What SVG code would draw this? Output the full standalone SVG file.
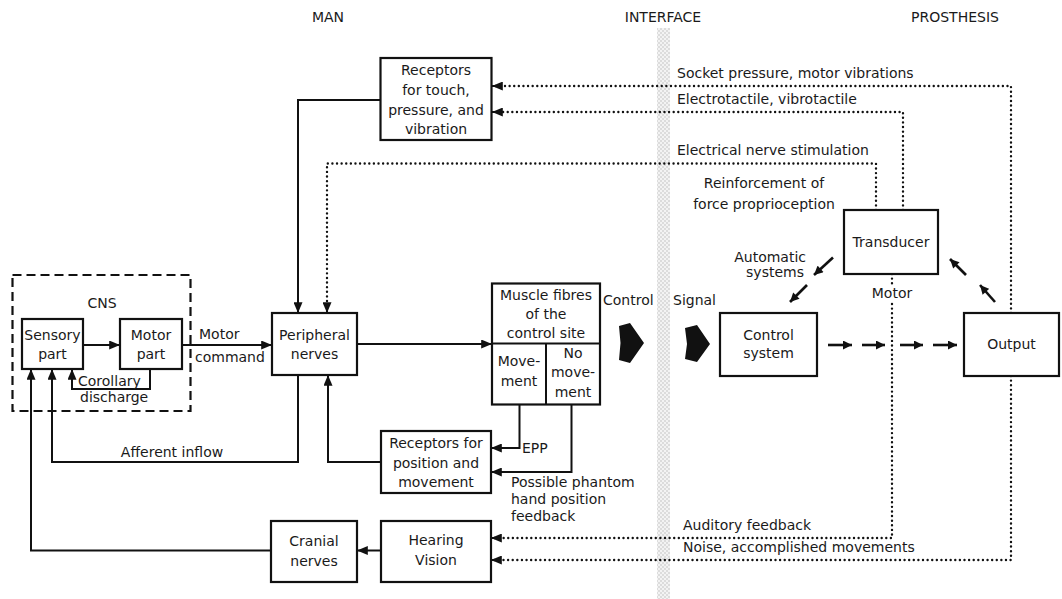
<svg xmlns="http://www.w3.org/2000/svg" width="1062" height="599" viewBox="0 0 1062 599">
<style>
  text { font-family: "DejaVu Sans", "Liberation Sans", sans-serif; font-size: 14px; fill: #1a1a1a; }
  .t { text-anchor: middle; }
  .title { font-size: 14px; text-anchor: middle; }
  .box { fill: #fff; stroke: #111; stroke-width: 2.2; }
  .ln { fill: none; stroke: #111; stroke-width: 2; }
  .dot { fill: none; stroke: #111; stroke-width: 2.4; stroke-linecap: round; stroke-dasharray: 0.01 4.6; }
  .thick { fill: none; stroke: #111; stroke-width: 2.6; }
</style>
<defs>
  <marker id="ah" viewBox="0 0 12 10" refX="12" refY="5" markerWidth="12" markerHeight="9" markerUnits="userSpaceOnUse" orient="auto">
    <path d="M0,0 L12,5 L0,10 Z" fill="#111"/>
  </marker>
  <marker id="ahs" viewBox="0 0 10 10" refX="10" refY="5" markerWidth="10" markerHeight="9" markerUnits="userSpaceOnUse" orient="auto">
    <path d="M0,0 L10,5 L0,10 Z" fill="#111"/>
  </marker>
  <pattern id="stip" width="4" height="4" patternUnits="userSpaceOnUse">
    <rect width="4" height="4" fill="#f3f3f3"/>
    <circle cx="1" cy="1" r="0.7" fill="#b5b5b5"/>
    <circle cx="3" cy="3" r="0.7" fill="#b5b5b5"/>
  </pattern>
</defs>
<rect width="1062" height="599" fill="#fff"/>

<!-- section titles -->
<text class="title" x="328" y="22">MAN</text>
<text class="title" x="663" y="22">INTERFACE</text>
<text class="title" x="955" y="22">PROSTHESIS</text>

<!-- interface strip -->
<rect id="interface" x="657" y="28" width="13" height="571" fill="url(#stip)"/>

<g id="connectors">
  <!-- solid -->
  <line class="ln" x1="83" y1="345" x2="120" y2="345" marker-end="url(#ah)"/>
  <line class="ln" x1="182" y1="345" x2="272" y2="345" marker-end="url(#ah)"/>
  <path class="ln" d="M150,369 V389 H72 V369" marker-end="url(#ah)"/>
  <line class="ln" x1="357" y1="344" x2="492" y2="344" marker-end="url(#ah)"/>
  <path class="ln" d="M380.5,100 H298 V313" marker-end="url(#ah)"/>
  <path class="ln" d="M298,375 V462 H52 V369" marker-end="url(#ah)"/>
  <path class="ln" d="M381,462 H328 V375" marker-end="url(#ah)"/>
  <path class="ln" d="M519.5,405 V448 H491" marker-end="url(#ah)"/>
  <path class="ln" d="M571.5,405 V472 H491" marker-end="url(#ah)"/>
  <path class="ln" d="M271,550.5 H31 V369" marker-end="url(#ah)"/>
  <line class="ln" x1="381" y1="550.5" x2="357" y2="550.5" marker-end="url(#ah)"/>

  <!-- dotted feedback -->
  <path class="dot" d="M1011,313 V86 H494" />
  <line x1="500" y1="86" x2="492" y2="86" class="ln" marker-end="url(#ah)"/>
  <path class="dot" d="M903,210 V112 H494" />
  <line x1="500" y1="112" x2="492" y2="112" class="ln" marker-end="url(#ah)"/>
  <path class="dot" d="M876,210 V163.5 H327 V305" />
  <line x1="327" y1="303" x2="327" y2="313" class="ln" marker-end="url(#ah)"/>
  <path class="dot" d="M892,274 V284" />
  <path class="dot" d="M892,304 V538 H494" />
  <line x1="500" y1="538" x2="491" y2="538" class="ln" marker-end="url(#ah)"/>
  <path class="dot" d="M1011,376 V560 H494" />
  <line x1="500" y1="560" x2="491" y2="560" class="ln" marker-end="url(#ah)"/>

  <!-- control signal block arrows -->
  <path d="M619,326 L630,323 L644,343 L630,363 L619,360 L620.5,343 Z" fill="#111"/>
  <path d="M685,328 L697,325 L710,344 L697,362 L685,359 L687,344 Z" fill="#111"/>

  <!-- motor command arrows control system -> output -->
  <line class="thick" x1="828" y1="345" x2="852" y2="345" marker-end="url(#ahs)"/>
  <line class="thick" x1="862" y1="345" x2="885" y2="345" marker-end="url(#ahs)"/>
  <line class="thick" x1="900" y1="345" x2="923" y2="345" marker-end="url(#ahs)"/>
  <line class="thick" x1="933" y1="345" x2="957" y2="345" marker-end="url(#ahs)"/>

  <!-- automatic systems arrows -->
  <line class="thick" x1="833" y1="257.5" x2="814" y2="275" marker-end="url(#ahs)"/>
  <line class="thick" x1="807" y1="285" x2="790" y2="302" marker-end="url(#ahs)"/>
  <line class="thick" x1="966" y1="275" x2="950" y2="259" marker-end="url(#ahs)"/>
  <line class="thick" x1="995" y1="302" x2="980" y2="285" marker-end="url(#ahs)"/>
</g>

<!-- connector labels -->
<text x="199" y="339">Motor</text>
<text x="195" y="362">command</text>
<text x="78" y="386">Corollary</text>
<text x="80" y="402">discharge</text>
<text class="t" x="172" y="457">Afferent inflow</text>
<text x="522" y="453">EPP</text>
<text x="511" y="487">Possible phantom</text>
<text x="511" y="504">hand position</text>
<text x="511" y="521">feedback</text>
<text x="677" y="78">Socket pressure, motor vibrations</text>
<text x="677" y="104">Electrotactile, vibrotactile</text>
<text x="677" y="155">Electrical nerve stimulation</text>
<text class="t" x="764" y="188">Reinforcement of</text>
<text class="t" x="764" y="209">force proprioception</text>
<text x="806" y="262" text-anchor="end">Automatic</text>
<text x="804" y="277" text-anchor="end">systems</text>
<text class="t" x="892" y="298">Motor</text>
<text x="603" y="305">Control</text>
<text x="673" y="305">Signal</text>
<text x="683" y="530">Auditory feedback</text>
<text x="683" y="552">Noise, accomplished movements</text>

<!-- nodes -->
<g id="cns">
  <rect x="12.5" y="275" width="178" height="136" fill="none" stroke="#111" stroke-width="2.2" stroke-dasharray="9 5"/>
  <text class="t" x="102" y="308">CNS</text>
</g>
<g id="sensory">
  <rect class="box" x="22" y="319" width="61" height="50"/>
  <text class="t" x="52.5" y="340">Sensory</text>
  <text class="t" x="52.5" y="359">part</text>
</g>
<g id="motor">
  <rect class="box" x="120" y="319" width="62" height="50"/>
  <text class="t" x="151" y="340">Motor</text>
  <text class="t" x="151" y="359">part</text>
</g>
<g id="peripheral">
  <rect class="box" x="272" y="313" width="85" height="62"/>
  <text class="t" x="314.5" y="340">Peripheral</text>
  <text class="t" x="314.5" y="359">nerves</text>
</g>
<g id="receptors-touch">
  <rect class="box" x="380.5" y="58" width="111" height="82"/>
  <text class="t" x="436" y="75">Receptors</text>
  <text class="t" x="436" y="95">for touch,</text>
  <text class="t" x="436" y="115">pressure, and</text>
  <text class="t" x="436" y="134">vibration</text>
</g>
<g id="muscle">
  <rect class="box" x="492" y="283.5" width="108" height="121"/>
  <line class="ln" x1="492" y1="343.5" x2="600" y2="343.5"/>
  <line class="ln" x1="546" y1="343.5" x2="546" y2="404.5"/>
  <text class="t" x="546" y="300">Muscle fibres</text>
  <text class="t" x="546" y="319">of the</text>
  <text class="t" x="546" y="338">control site</text>
  <text class="t" x="519" y="366">Move-</text>
  <text class="t" x="519" y="386">ment</text>
  <text class="t" x="573" y="358">No</text>
  <text class="t" x="573" y="377">move-</text>
  <text class="t" x="573" y="397">ment</text>
</g>
<g id="receptors-position">
  <rect class="box" x="381" y="431" width="110" height="62"/>
  <text class="t" x="436" y="448">Receptors for</text>
  <text class="t" x="436" y="468">position and</text>
  <text class="t" x="436" y="487">movement</text>
</g>
<g id="hearing">
  <rect class="box" x="381" y="521" width="110" height="61"/>
  <text class="t" x="436" y="545">Hearing</text>
  <text class="t" x="436" y="565">Vision</text>
</g>
<g id="cranial">
  <rect class="box" x="271" y="521" width="86" height="61"/>
  <text class="t" x="314" y="546">Cranial</text>
  <text class="t" x="314" y="566">nerves</text>
</g>
<g id="transducer">
  <rect class="box" x="844" y="210" width="94" height="64"/>
  <text class="t" x="891" y="247">Transducer</text>
</g>
<g id="control-system">
  <rect class="box" x="720" y="313" width="97" height="63"/>
  <text class="t" x="768.5" y="340">Control</text>
  <text class="t" x="768.5" y="358">system</text>
</g>
<g id="output">
  <rect class="box" x="964" y="313" width="95" height="63"/>
  <text class="t" x="1011.5" y="349">Output</text>
</g>
</svg>
